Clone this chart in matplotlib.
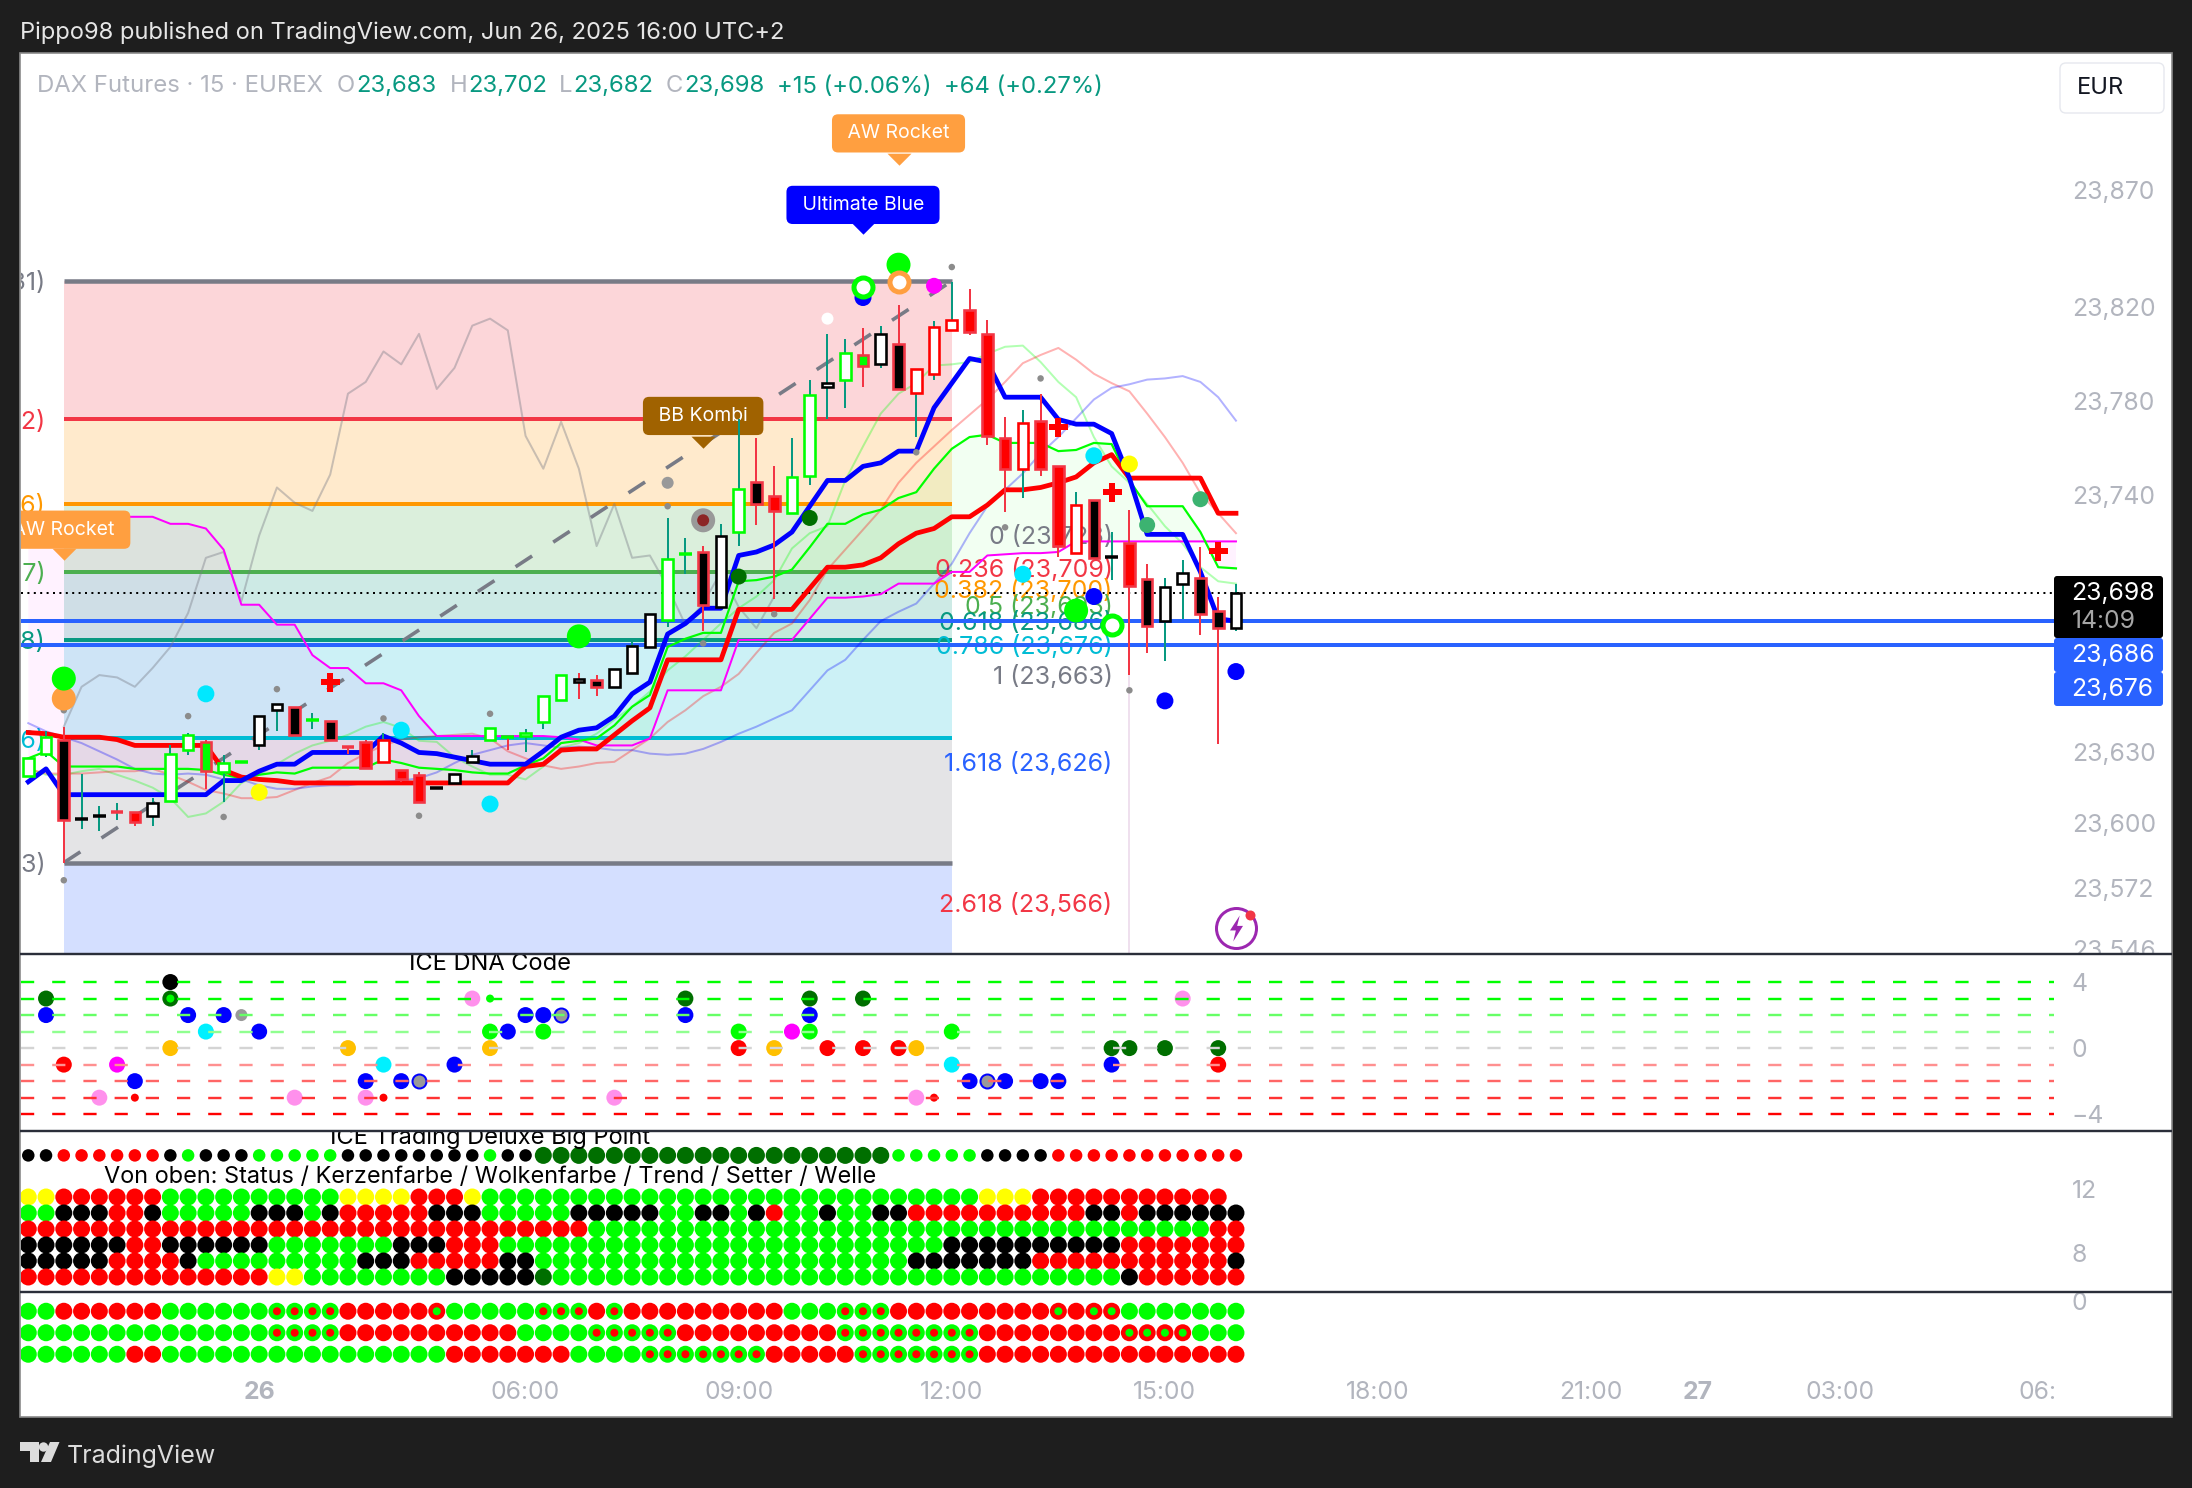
#!/usr/bin/env python
import matplotlib
matplotlib.use("Agg")
import matplotlib.pyplot as plt
from matplotlib.patches import Rectangle, FancyBboxPatch, Polygon, Circle
from matplotlib.transforms import Bbox

plt.rcParams["font.family"] = ["Inter", "DejaVu Sans"]

W, H = 2192, 1488
PLOT_L, PLOT_R = 20.5, 2054

bars = list(range(-2, 67))

opens = [23620, 23629.5, 23635.5, 23601.5, 23603, 23604.5, 23604.5, 23603, 23609.5, 23631,
         23634.5, 23621.5, 23626, 23633, 23648, 23649.5, 23644, 23643.5, 23632.5, 23634.5,
         23626, 23622.5, 23620.5, 23615, 23617, 23626, 23635.5, 23636.5, 23637, 23643,
         23652.5, 23661.5, 23661, 23658, 23664, 23675, 23686.5, 23714.5, 23715.5, 23692,
         23724, 23745.5, 23739.5, 23732, 23748, 23786, 23789, 23799.5, 23795.5, 23804,
         23783.5, 23791.5, 23810, 23818.5, 23808.5, 23764, 23751, 23771.5, 23752, 23715,
         23737.5, 23713.5, 23719.5, 23704, 23686, 23702, 23704.5, 23690.5, 23683]
closes = [23627.5, 23636.5, 23601, 23601.5, 23603, 23604.5, 23600.5, 23608.5, 23629.5, 23637.5,
          23622, 23625.5, 23626, 23645.5, 23650.5, 23637.5, 23644, 23635.5, 23632, 23623.5,
          23635.5, 23618.5, 23609, 23615, 23621, 23628.5, 23640.5, 23636, 23638.5, 23654,
          23663, 23660, 23658, 23665.5, 23675.5, 23689, 23712.5, 23714.5, 23693, 23722.5,
          23742.5, 23736, 23733, 23747.5, 23782.5, 23787.5, 23800.5, 23795, 23808.5, 23785,
          23793.5, 23811.5, 23814.5, 23809.5, 23765, 23751, 23770.5, 23751, 23718, 23735.5,
          23713, 23713.5, 23701, 23684, 23700.5, 23706.5, 23689, 23683, 23698]
highs = [23627.5, 23639, 23641, 23621, 23607, 23608.5, 23604.5, 23610.5, 23633, 23638.5,
         23635.5, 23629, 23626, 23645.5, 23650.5, 23649.5, 23647, 23643.5, 23632.5, 23635.5,
         23638.5, 23622.5, 23621.5, 23615, 23621, 23631, 23640.5, 23636.5, 23640, 23654,
         23663, 23664, 23663, 23665.5, 23678.5, 23689, 23730, 23721.5, 23718, 23727.5,
         23772, 23764, 23752, 23764, 23789, 23808.5, 23806.5, 23811, 23812, 23821,
         23793.5, 23814, 23830.5, 23827.5, 23814.5, 23773, 23776, 23783, 23752, 23741,
         23737.5, 23724, 23733.5, 23710.5, 23704.5, 23712, 23717.5, 23696.5, 23702]
lows = [23620, 23628, 23583, 23597.5, 23596.5, 23601, 23598.5, 23598.5, 23609.5, 23629,
        23614.5, 23609, 23626, 23631, 23639, 23637.5, 23640, 23635, 23629.5, 23623,
        23626, 23617.5, 23609, 23614.5, 23617, 23626, 23635.5, 23631, 23630, 23640,
        23652.5, 23653, 23654, 23658, 23664, 23675, 23683.5, 23706, 23682, 23692,
        23718, 23727, 23695.5, 23732, 23744, 23772, 23777, 23786, 23794, 23785,
        23764.5, 23789, 23810, 23808, 23761, 23732.5, 23738.5, 23748, 23713.5, 23715,
        23713, 23703.5, 23663, 23672.5, 23669, 23687, 23680, 23633.5, 23682]
body_fill = "wwkkkrrwww" "gwgwwkgkrr" "wrrkwwwgww" "wwkwwwwgkw" "wkrwwwwgwk" "wwwrrrwrrw" "kkrkwwkkw"
body_edge = "ggrkkrrkgg" "rggkkrgrrr" "Rrrkkkgggg" "gkrkkkggrk" "grrggkgrkr" "RRRrrrRrrR" "rkrrkkrrk"

blue_line = [23617.5, 23623, 23612, 23612, 23612, 23612, 23612, 23612, 23612, 23612,
             23612, 23618, 23618, 23622, 23625, 23625, 23630, 23630, 23630, 23630,
             23637, 23634, 23630, 23629.5, 23628, 23626.5, 23625, 23625, 23625, 23630.5,
             23636.5, 23639.5, 23640.5, 23645.5, 23655, 23660, 23680.5, 23685, 23691.5, 23691.5,
             23714, 23715.5, 23718.5, 23724, 23735, 23746, 23746, 23752, 23753.5, 23758.5,
             23758.5, 23777, 23787.5, 23798, 23796.5, 23781.5, 23781.5, 23781.5, 23772, 23770,
             23770, 23766, 23747, 23723, 23723, 23723, 23707, 23687, 23686]
red_line = [23638.5, 23638, 23636.5, 23636.5, 23636.5, 23635.5, 23633, 23633, 23633, 23633,
            23633, 23622.5, 23619.5, 23618.5, 23618, 23617, 23617, 23617, 23617, 23617,
            23617, 23617, 23617, 23617, 23617, 23617, 23617, 23617, 23624, 23625,
            23631, 23631.5, 23631.5, 23637.5, 23643.5, 23649, 23669.5, 23669.5, 23669.5, 23669.5,
            23691, 23691, 23691, 23691, 23700, 23709, 23709, 23710, 23713, 23719,
            23723.5, 23725.5, 23730.5, 23730.5, 23735.5, 23742, 23742, 23743, 23745, 23747.5,
            23753.5, 23757, 23747, 23747, 23747, 23747, 23747, 23732, 23732]
green_line = [23627.5, 23630.5, 23624, 23624, 23624, 23624, 23623, 23623, 23623, 23623,
              23622.5, 23620.5, 23619, 23620.5, 23621.5, 23621, 23623.5, 23623.5, 23623.5, 23623.5,
              23627, 23625.5, 23623.5, 23623, 23622.5, 23621.5, 23621, 23621, 23624.5, 23627.5,
              23634, 23635, 23636, 23641.5, 23649.5, 23654.5, 23675, 23678.5, 23681, 23681,
              23703, 23703.5, 23705, 23708, 23717.5, 23727.5, 23727.5, 23731.5, 23733.5, 23738.5,
              23741, 23751, 23759.5, 23764.5, 23765.5, 23762, 23762, 23762, 23758.5, 23759,
              23762, 23761.5, 23746, 23735, 23735, 23735, 23724, 23709, 23708.5]
magenta_line = [23730.5, 23730.5, 23730.5, 23730.5, 23730.5, 23730.5, 23730.5, 23730.5, 23727.5, 23727.5,
                23725.5, 23716.5, 23693, 23693, 23684.5, 23684.5, 23671.5, 23666, 23666, 23659.5,
                23659.5, 23656.5, 23645.5, 23637, 23637, 23637, 23637, 23637, 23637, 23637,
                23636.5, 23635.5, 23633, 23633, 23633, 23636, 23656.5, 23656.5, 23656.5, 23656.5,
                23678, 23678, 23678, 23678, 23687, 23696, 23696, 23696.5, 23697.5, 23702,
                23702, 23702, 23707, 23707, 23714, 23714.5, 23715, 23715, 23715.5, 23720,
                23720, 23720, 23720, 23720, 23720, 23720, 23720, 23720, 23720]
pale_green = [23623, 23620.5, 23620.5, 23622, 23623, 23620.5, 23618, 23615, 23610.5, 23602.5,
              23604, 23609, 23617, 23620.5, 23625, 23629.5, 23633, 23635, 23637.5, 23641,
              23643, 23640.5, 23635, 23634.5, 23628, 23624, 23620.5, 23620.5, 23618.5, 23624,
              23632, 23634, 23638, 23644, 23649.5, 23656, 23665, 23671, 23678, 23685,
              23691.5, 23696.5, 23703.5, 23717, 23723.5, 23726.5, 23746, 23760.5, 23774.5, 23783,
              23787.5, 23795, 23795.5, 23796.5, 23800, 23803, 23803.5, 23796.5, 23788, 23781.5,
              23764.5, 23752, 23745, 23736, 23726.5, 23719, 23709, 23703, 23702]
pale_red = [23623, 23621, 23621, 23621, 23621.5, 23622, 23622, 23623, 23620.5, 23617.5,
            23614, 23612.5, 23610.5, 23610.5, 23611, 23614, 23617, 23619.5, 23625.5, 23629.5,
            23633, 23635.5, 23636.5, 23637, 23637.5, 23638, 23636, 23630.5, 23627.5, 23624.5,
            23623, 23624, 23625.5, 23626, 23631, 23636, 23643, 23648, 23654, 23658,
            23663.5, 23672.5, 23681, 23685, 23695, 23708, 23716.5, 23725, 23733.5, 23745,
            23753.5, 23760.5, 23767.5, 23774, 23780.5, 23788, 23796, 23799.5, 23802.5, 23797.5,
            23791.5, 23787.5, 23784, 23774.5, 23764.5, 23753.5, 23740.5, 23732, 23723.5]
pale_blue = [23642.5, 23639, 23636.5, 23634, 23630.5, 23627, 23623, 23621, 23620.5, 23621,
             23620.5, 23618.5, 23618.5, 23616, 23614.5, 23614.5, 23615.5, 23616, 23616, 23617,
             23617.5, 23618, 23619, 23621.5, 23625.5, 23629, 23631, 23633, 23634, 23633,
             23632, 23632.5, 23632, 23631, 23631, 23629.5, 23629, 23629.5, 23631.5, 23634.5,
             23638, 23641, 23644.5, 23648, 23656.5, 23665, 23669.5, 23678, 23686, 23690,
             23693.5, 23702, 23710.5, 23723.5, 23735, 23742, 23749, 23757.5, 23764.5, 23772.5,
             23780.5, 23785.5, 23787, 23789, 23789.5, 23790.5, 23788, 23781.5, 23771.5]
gray_bars = list(range(0, 41))
gray_line = [23641, 23658, 23663, 23662, 23658, 23666, 23675, 23689.5, 23713, 23715.5,
             23694.5, 23722.5, 23743, 23736.5, 23733, 23748.5, 23783, 23788, 23801, 23795.5,
             23808.5, 23785, 23794, 23812, 23815, 23810, 23765, 23751, 23771, 23751,
             23718, 23736, 23713, 23714, 23700.5, 23684.5, 23693.5, 23707, 23692, 23683, 23696.5]

fib_a = [23831, 23772, 23736, 23707, 23678, 23636, 23583, 23429]
fib_a_names = ["0", "0.236", "0.382", "0.5", "0.618", "0.786", "1"]
fib_colors = ["#787b86", "#f23645", "#ff9800", "#4caf50", "#089981", "#00bcd4", "#787b86", "#2962ff"]
fib_band_colors = ["#f23645", "#ff9800", "#4caf50", "#089981", "#00bcd4", "#787b86", "#2962ff"]
fib_b = [23723, 23709, 23700, 23693, 23686, 23676, 23663, 23626, 23566]
fib_b_names = ["0", "0.236", "0.382", "0.5", "0.618", "0.786", "1", "1.618", "2.618"]
fib_b_colors = ["#787b86", "#f23645", "#ff9800", "#4caf50", "#089981", "#00bcd4", "#787b86", "#2962ff", "#f23645"]

last_price = 23698
alert_prices = [23686, 23676]
price_ticks = [23870, 23820, 23780, 23740, 23630, 23600, 23572, 23546]

dot_small_x = [0, 0, 7, 12, 18, 9, 20, 24, 34, 36, 40, 48, 47, 50, 55, 53, 60]
dot_small_y = [23648, 23575.5, 23645.5, 23657, 23644.5, 23602.5, 23603, 23646.5, 23735, 23676.5,
               23689, 23758, 23827, 23837, 23789.5, 23726, 23656.5]
big_green_x = [0, 29, 47, 57]
big_green_y = [23661.5, 23679.5, 23838, 23690.5]
orange_x = [0]
orange_y = [23653]
cyan_x = [8, 19, 24, 54, 58]
cyan_y = [23655, 23639.5, 23608, 23706, 23756.5]
yellow_x = [11, 60]
yellow_y = [23613, 23753]
cross_x = [15, 56, 59, 65]
cross_y = [23660, 23769, 23741, 23716]
blue_dot_x = [45, 58, 62, 66]
blue_dot_y = [23824, 23696.5, 23652, 23664.5]
dark_x = [38, 42]
dark_y = [23705, 23730]
sea_x = [61, 64]
sea_y = [23727, 23738]
ring_green_x = [45, 59]
ring_green_y = [23828.5, 23684.5]

dna_levels = [4, 3, 2, 1, 0, -1, -2, -3, -4]
dna_line_colors = ["#00ff00", "#00ff00", "#66ff66", "#90ff90", "#d4d4d4", "#ff9090", "#ff6666", "#ff3333", "#ff0000"]
dna_bars = [6,
            -1, 6, 23, 24, 35, 42, 45, 63,
            -1, 7, 9, 10, 26, 27, 28, 35, 42,
            8, 11, 24, 25, 27, 38, 41, 42, 50,
            6, 16, 24, 38, 40, 43, 45, 47, 48, 59, 60, 62, 65,
            0, 3, 18, 22, 50, 59, 65,
            4, 17, 19, 20, 51, 52, 53, 55, 56,
            2, 4, 13, 17, 18, 31, 48, 49]
dna_vals = [4,
            3, 3, 3, 3, 3, 3, 3, 3,
            2, 2, 2, 2, 2, 2, 2, 2, 2,
            1, 1, 1, 1, 1, 1, 1, 1, 1,
            0, 0, 0, 0, 0, 0, 0, 0, 0, 0, 0, 0, 0,
            -1, -1, -1, -1, -1, -1, -1,
            -2, -2, -2, -2, -2, -2, -2, -2, -2,
            -3, -3, -3, -3, -3, -3, -3, -3]
dna_codes = "k" "depxdddp" "bbbabbsbb" "cbgbggmgg" "ooororrrodddd" "rmcbcbr" "bbbsbsbbb" "pzppzppz"

bigpoint_row = "kkrrrrrrkgkkkggggg" "kkkkkkkk" "gkk" "dddddddddddddddddddd" "ggggg" "kkkk" "rrrrrrrrrrr"
status_rows = [
    "yyrrrrrrgggggggggg" "yyyyrrry" "gggggggggggggggggggggggggggg" "yyy" "rrrrrrrrrrr" ".",
    "ggkkkrrkgggggkkkgk" "rrrrrkkkgggggkkkkkggkkgkrggkggkk" "rrrrrrrrrr" "kkrkkkkkk",
    "r" * 32 + "g" * 35 + "rr",
    "kkkkkkrrkkkkkkgggggggkkkrrr" + "g" * 25 + "k" * 10 + "r" * 7,
    "kkkkkrrrrkggggggggg" "kkkrrrrrkk" + "g" * 21 + "k" * 7 + "r" * 11 + "k",
    "r" * 14 + "yy" + "g" * 8 + "kkkkkd" + "g" * 32 + "k" + "r" * 6,
]
status_vals = [11.5, 10.5, 9.5, 8.5, 7.5, 6.5]
momentum_rows = [
    "ggrrrrrrggggggaaaarrrrrbgggggaaarar" + "r" * 8 + "gggaaa" + "r" * 9 + "brbb" + "g" * 7,
    "g" * 14 + "aaaa" + "r" * 10 + "gggg" + "aaaaa" + "r" * 9 + "a" * 8 + "r" * 8 + "bbbb" + "ggg",
    "g" * 6 + "rr" + "g" * 16 + "r" * 7 + "gggg" + "a" * 7 + "r" * 5 + "a" * 7 + "r" * 15,
]
momentum_vals = [-0.5, -1.5, -2.5]

time_ticks = [11, 26, 38, 50, 62, 74, 86, 92, 100, 112]
time_labels = ["26", "06:00", "09:00", "12:00", "15:00", "18:00", "21:00", "27", "03:00", "06:00"]

GRAY = "#b2b5be"
TEAL = "#089981"
UP_DOWN_RED = "#f23645"
FILLS = {"w": "#ffffff", "k": "#000000", "g": "#00ff00", "r": "#ff0000"}
EDGES = {"k": "#000000", "g": "#00ff00", "r": UP_DOWN_RED, "R": "#ff0000"}
ROW_COLORS = {"y": "#ffff00", "r": "#ff0000", "g": "#00ff00", "k": "#000000", "d": "#006f00"}


def panel(top, bottom):
    return fig.add_axes([PLOT_L / W, 1 - bottom / H, (PLOT_R - PLOT_L) / W, (bottom - top) / H], facecolor="none")


def px(d):
    # pixels to points at dpi 100
    return d * 0.72


def dots(ax, xs, ys, color, d, z=6, edge=None, ew=0):
    ax.scatter(xs, ys, s=px(d) ** 2, c=color, linewidths=px(ew), edgecolors=edge if edge else "none", zorder=z)


def style_panel(ax, ymin, ymax, ticks, labels):
    ax.set_xlim((PLOT_L - 63.8) / 17.76, (PLOT_R - 63.8) / 17.76)
    ax.set_ylim(ymin, ymax)
    for s in ax.spines.values():
        s.set_visible(False)
    ax.set_xticks([])
    ax.yaxis.tick_right()
    ax.set_yticks(ticks)
    ax.set_yticklabels(labels)
    ax.tick_params(axis="y", length=0, pad=12.7, labelsize=17.8, labelcolor=GRAY)


fig = plt.figure(figsize=(W / 100, H / 100), dpi=100, facecolor="#1e1e1e")

back = fig.add_axes([0, 0, 1, 1], zorder=-1)
back.set_xlim(0, W)
back.set_ylim(H, 0)
back.axis("off")
back.add_patch(Rectangle((20, 53), 2152, 1364, fc="white", ec="#8a8a8a", lw=1.2))

# price pane
ax = panel(54, 954.4)
style_panel(ax, 23698 - (954.4 - 593) / 2.345, 23698 + (593 - 54) / 2.345,
            price_ticks, [f"{t:,}" for t in price_ticks])
for lab in ax.get_yticklabels():
    lab.set_clip_on(True)
    lab.set_clip_box(Bbox([[0, H - 954], [W, H]]))

for i in range(7):
    ax.fill_between([0, 50], fib_a[i + 1], fib_a[i], color=fib_band_colors[i], alpha=0.2, lw=0, zorder=1)
    ax.plot([0, 50], [fib_a[i], fib_a[i]], color=fib_colors[i], lw=px(4.5 if i in (0, 6) else 4), solid_capstyle="butt", zorder=2)
    ax.text(-1.05, fib_a[i] - 1, f"{fib_a_names[i]} ({fib_a[i]:,})", color=fib_colors[i], fontsize=18,
            ha="right", va="center", clip_on=True, zorder=2)
ax.plot([0, 50], [fib_a[6], fib_a[0]], color="#787b86", lw=px(3.6), linestyle=(0, (5.5, 7)), zorder=3)
for i in range(9):
    ax.text(59.05, fib_b[i] - 1, f"{fib_b_names[i]} ({fib_b[i]:,})", color=fib_b_colors[i], fontsize=18,
            ha="right", va="center", zorder=2)

ax.fill_between(bars, green_line, magenta_line, where=[g >= m for g, m in zip(green_line, magenta_line)],
                interpolate=True, color="#00ff00", alpha=0.05, lw=0, zorder=1.5)
ax.fill_between(bars, green_line, magenta_line, where=[g <= m for g, m in zip(green_line, magenta_line)],
                interpolate=True, color="#ff00ff", alpha=0.05, lw=0, zorder=1.5)

ax.axhline(last_price, color="black", lw=px(2), linestyle=(0, (1, 2.2)), zorder=2.5)
for p in alert_prices:
    ax.axhline(p, color="#2962ff", lw=px(4), zorder=2.6)

ax.plot(gray_bars, gray_line, color="#787b86", alpha=0.4, lw=px(2), zorder=3)
ax.plot(bars, pale_green, color="#00ff00", alpha=0.3, lw=px(2), zorder=3)
ax.plot(bars, pale_red, color="#ff0000", alpha=0.3, lw=px(2), zorder=3)
ax.plot(bars, pale_blue, color="#0000ff", alpha=0.3, lw=px(2), zorder=3)
ax.plot(bars, magenta_line, color="#ff00ff", lw=px(2), zorder=3.1)
ax.plot(bars, green_line, color="#00ff00", lw=px(2.2), zorder=3.2)
ax.plot(bars, red_line, color="#ff0000", lw=px(4.8), zorder=3.3)
ax.plot(bars, blue_line, color="#0000ff", lw=px(4.8), zorder=3.4)
ax.vlines(60, 23543, 23663, color="#ecd9ea", lw=px(1.6), zorder=1.8)

for k, b in enumerate(bars):
    o, c = opens[k], closes[k]
    wick = TEAL if c >= o else UP_DOWN_RED
    ax.vlines(b, lows[k], highs[k], color=wick, lw=px(2), zorder=4)
    top, bot = max(o, c), min(o, c)
    if top - bot < 0.6:
        ax.hlines(top, b - 0.36, b + 0.36, color=EDGES[body_edge[k]], lw=px(3.5), zorder=4.2)
    else:
        ax.bar(b, top - bot, bottom=bot, width=0.6, facecolor=FILLS[body_fill[k]], edgecolor=EDGES[body_edge[k]],
               linewidth=px(2.6), zorder=4.2)

dots(ax, dot_small_x, dot_small_y, "#8c8c8c", 6.5)
dots(ax, [34], [23745], "#999999", 12)
dots(ax, [36], [23729], "#999999", 24)
dots(ax, [36], [23729], "#8c2426", 12, z=6.1)
dots(ax, orange_x, orange_y, "#ff9f40", 24)
dots(ax, big_green_x, big_green_y, "#00ff00", 24, z=6.2)
dots(ax, cyan_x, cyan_y, "#00e8ff", 17)
dots(ax, yellow_x, yellow_y, "#ffff00", 17)
dots(ax, blue_dot_x, blue_dot_y, "#0000ff", 17)
dots(ax, [43], [23815], "white", 12)
dots(ax, [49], [23829], "#ff00ff", 16)
dots(ax, dark_x, dark_y, "#006f00", 16)
dots(ax, sea_x, sea_y, "#3cb371", 16)
dots(ax, ring_green_x, ring_green_y, "white", 19, z=6.3, edge="#00ff00", ew=5)
dots(ax, [47], [23830.5], "white", 19, z=6.3, edge="#ff9f40", ew=5)
ax.scatter(cross_x, cross_y, marker="P", s=px(19) ** 2, c="#ff0000", linewidths=0, zorder=6)

labels = [(0, 23725, 23715, "AW Rocket", "#ff9f40"), (47, 23894, 23883.5, "AW Rocket", "#ff9f40"),
          (45, 23863.5, 23854, "Ultimate Blue", "#0000ff"), (36, 23773.5, 23763, "BB Kombi", "#a06200")]
for lx, ly, ty, name, col in labels:
    ax.text(lx, ly, f" {name} ", color="white", fontsize=14, ha="center", va="center", clip_on=True, zorder=3.8,
            bbox=dict(boxstyle="round,pad=0.52,rounding_size=0.32", fc=col, ec="none"))
    ax.plot([lx], [ty], marker=[(-1, 0.4), (1, 0.4), (0, -0.6)], ms=px(24), color=col, mew=0, zorder=3.8, clip_on=True)

ax.plot([66], [23555], marker="o", ms=px(40), mfc="none", mec="#9c27b0", mew=px(3), zorder=5)
ax.plot([66], [23555], marker=[(0.25, 1), (-0.5, -0.15), (-0.05, -0.15), (-0.25, -1), (0.5, 0.2), (0.05, 0.2)],
        ms=px(26), color="#9c27b0", mew=0, zorder=5)
ax.plot([66.8], [23560.5], marker="o", ms=px(10), color=UP_DOWN_RED, mew=0, zorder=5.1)

# ICE DNA pane
ax2 = panel(954.4, 1130.8)
style_panel(ax2, -4 - (1130.8 - 1114.2) / 16.5, 4 + (982 - 954.4) / 16.5, [4, 0, -4], ["4", "0", "\u22124"])
dna_style = {"k": ("#000000", 16), "d": ("#006f00", 16), "p": ("#ff90ec", 16), "b": ("#0000ff", 16),
             "c": ("#00f0ff", 16), "g": ("#00ff00", 16), "o": ("#ffc000", 16), "r": ("#ff0000", 16),
             "m": ("#ff00ff", 16), "a": ("#999999", 12), "x": ("#00ff00", 8), "z": ("#ff0000", 8)}
for b, v, code in zip(dna_bars, dna_vals, dna_codes):
    if code == "s":
        dots(ax2, [b], [v], "#999999", 14, z=3, edge="#0000ff", ew=2)
    elif code == "e":
        dots(ax2, [b], [v], "#006f00", 16, z=3)
        dots(ax2, [b], [v], "#00ff00", 8, z=3.1)
    else:
        dots(ax2, [b], [v], dna_style[code][0], dna_style[code][1], z=3)
for lev, col in zip(dna_levels, dna_line_colors):
    ax2.axhline(lev, color=col, lw=px(2.4), linestyle=(0, (5.5, 7.5)), zorder=4)
ax2.text(24, 5.12, "ICE DNA Code", color="black", fontsize=17, ha="center", va="center", clip_on=True)

# big point pane
ax3 = panel(1130.8, 1291.6)
style_panel(ax3, 12 - (1291.6 - 1189) / 16, 12 + (1189 - 1130.8) / 16, [12, 8], ["12", "8"])
for b, code in zip(bars, bigpoint_row):
    dots(ax3, [b], [14.1], ROW_COLORS[code], 17 if code == "d" else 12.5, z=3)
for row, val in zip(status_rows, status_vals):
    for b, code in zip(bars, row):
        if code != ".":
            dots(ax3, [b], [val], ROW_COLORS[code], 17, z=3)
ax3.text(24, 15.2, "ICE Trading Deluxe Big Point", color="black", fontsize=17, ha="center", va="center", clip_on=True)
ax3.text(24, 12.75, "Von oben: Status / Kerzenfarbe / Wolkenfarbe / Trend / Setter / Welle", color="black",
         fontsize=16.9, ha="center", va="center", clip_on=True)

# momentum pane
ax4 = panel(1291.6, 1375)
style_panel(ax4, (1300.5 - 1375) / 21.5, (1300.5 - 1291.6) / 21.5, [0], ["0"])
for row, val in zip(momentum_rows, momentum_vals):
    for b, code in zip(bars, row):
        outer = "#ff0000" if code in "rb" else "#00ff00"
        dots(ax4, [b], [val], outer, 17, z=3)
        if code in "ab":
            dots(ax4, [b], [val], "#ff0000" if code == "a" else "#00ff00", 8, z=3.1)
ax4.text(24, 0.62, "Momentum Status Indikator", color="black", fontsize=17, ha="center", va="center", clip_on=True)

# time scale
ax5 = panel(1375, 1416)
style_panel(ax5, 0, 1, [], [])
for t, name in zip(time_ticks, time_labels):
    bold = ":" not in name
    ax5.text(t, 0.57, name, color=GRAY, fontsize=17.8, fontweight="bold" if bold else "normal",
             ha="center", va="center", clip_on=True)

# chrome on top
over = fig.add_axes([0, 0, 1, 1], zorder=10, facecolor="none")
over.set_xlim(0, W)
over.set_ylim(H, 0)
over.axis("off")
for y in (954.4, 1130.8, 1291.6):
    over.plot([20, 2172], [y, y], color="#2a2e39", lw=px(2.4), solid_capstyle="butt")
over.add_patch(FancyBboxPatch((2054, 576), 109, 62, boxstyle="round,pad=0,rounding_size=3", fc="black", ec="none"))
over.add_patch(FancyBboxPatch((2054, 638), 109, 34, boxstyle="round,pad=0,rounding_size=3", fc="#2962ff", ec="none"))
over.add_patch(FancyBboxPatch((2054, 672), 109, 34, boxstyle="round,pad=0,rounding_size=3", fc="#2962ff", ec="none"))
for txt, y, col in [("23,698", 593.5, "white"), ("14:09", 621.5, "#a5a5a5"), ("23,686", 655.5, "white"), ("23,676", 689.5, "white")]:
    over.text(2071.5, y, txt, color=col, fontsize=17.8, ha="left", va="center")
over.add_patch(FancyBboxPatch((2060, 63), 104, 50, boxstyle="round,pad=0,rounding_size=6", fc="white", ec="#e6e8ee", lw=1))
over.text(2077, 88, "EUR", color="#131722", fontsize=17, ha="left", va="center")

over.text(20, 32.5, "Pippo98 published on TradingView.com, Jun 26, 2025 16:00 UTC+2", color="#e6e6e6",
          fontsize=17.05, ha="left", va="center")
legend_bits = [(37, "DAX Futures \u00b7 15 \u00b7 EUREX", GRAY), (337, "O", GRAY), (356, "23,683", TEAL), (450, "H", GRAY),
               (468, "23,702", TEAL), (559, "L", GRAY), (573, "23,682", TEAL), (666, "C", GRAY), (684, "23,698", TEAL),
               (777, "+15 (+0.06%)", TEAL), (944, "+64 (+0.27%)", TEAL)]
for x, txt, col in legend_bits:
    over.text(x, 86.5, txt, color=col, fontsize=17.2, ha="left", va="center")

over.add_patch(Polygon([(20, 1442), (39, 1442), (39, 1462), (30, 1462), (30, 1451), (20, 1451)], fc="#dcdcdc", ec="none"))
over.add_patch(Circle((43.5, 1447), 4.7, fc="#dcdcdc", ec="none"))
over.add_patch(Polygon([(50, 1442), (59.5, 1442), (51, 1462), (41, 1462)], fc="#dcdcdc", ec="none"))
over.text(67, 1456, "TradingView", color="#dcdcdc", fontsize=18, ha="left", va="center")

fig.savefig("out.png", dpi=100, facecolor=fig.get_facecolor())
